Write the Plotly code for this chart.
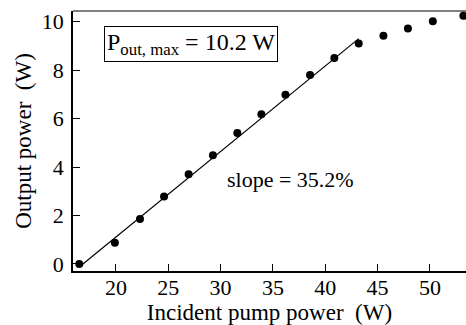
import plotly.graph_objects as go

pump = [16.5, 19.9, 22.3, 24.6, 26.95, 29.27, 31.6, 33.9, 36.2, 38.55, 40.87, 43.2, 45.56, 47.9, 50.28, 53.2]
output = [0.0, 0.88, 1.86, 2.78, 3.7, 4.49, 5.4, 6.18, 6.98, 7.8, 8.5, 9.1, 9.42, 9.72, 10.02, 10.24]

fit_x = [16.85, 43.2]
fit_y = [0.0, 9.3]

x_ticks = [20, 25, 30, 35, 40, 45, 50]
y_ticks = [0, 2, 4, 6, 8, 10]

FONT = "Liberation Serif"

fig = go.Figure()
fig.add_trace(go.Scatter(x=fit_x, y=fit_y, mode="lines",
                         line=dict(color="black", width=1.2), showlegend=False))
fig.add_trace(go.Scatter(x=pump, y=output, mode="markers",
                         marker=dict(color="black", size=8), showlegend=False))

fig.update_layout(
    width=466, height=325,
    margin=dict(l=73, r=0, t=11, b=54),
    paper_bgcolor="white", plot_bgcolor="white",
    font=dict(family=FONT, size=22, color="black"),
    xaxis=dict(range=[15.9, 53.45], tickvals=x_ticks, ticks="inside", ticklen=7,
               tickwidth=1, tickcolor="black", showline=True, linecolor="black",
               linewidth=2, showgrid=False, zeroline=False, ticklabelstandoff=-4,
               title=dict(text="Incident pump power  (W)", standoff=2, font=dict(size=23)),
               tickfont=dict(size=22)),
    yaxis=dict(range=[-0.29, 10.44], tickvals=y_ticks, ticks="inside", ticklen=7,
               tickwidth=1, tickcolor="black", showline=True, linecolor="black",
               linewidth=1.5, showgrid=False, zeroline=False, ticklabelstandoff=3,
               title=dict(text="Output power  (W)", standoff=4, font=dict(size=23)),
               tickfont=dict(size=22)),
    shapes=[dict(type="line", xref="paper", yref="paper", x0=0, x1=1, y0=1, y1=1,
                 line=dict(color="black", width=1))],
    annotations=[
        dict(x=27.2, y=9.09, xref="x", yref="y", showarrow=False,
             text="P<sub>out, max</sub> = 10.2 W", font=dict(size=24, family=FONT),
             bordercolor="black", borderwidth=1, borderpad=2, bgcolor="white"),
        dict(x=36.7, y=3.47, xref="x", yref="y", showarrow=False,
             text="slope = 35.2%", font=dict(size=22, family=FONT)),
    ],
)

fig.write_html("out.html", config={"displayModeBar": False},
               post_script="document.body.style.margin='0';")
